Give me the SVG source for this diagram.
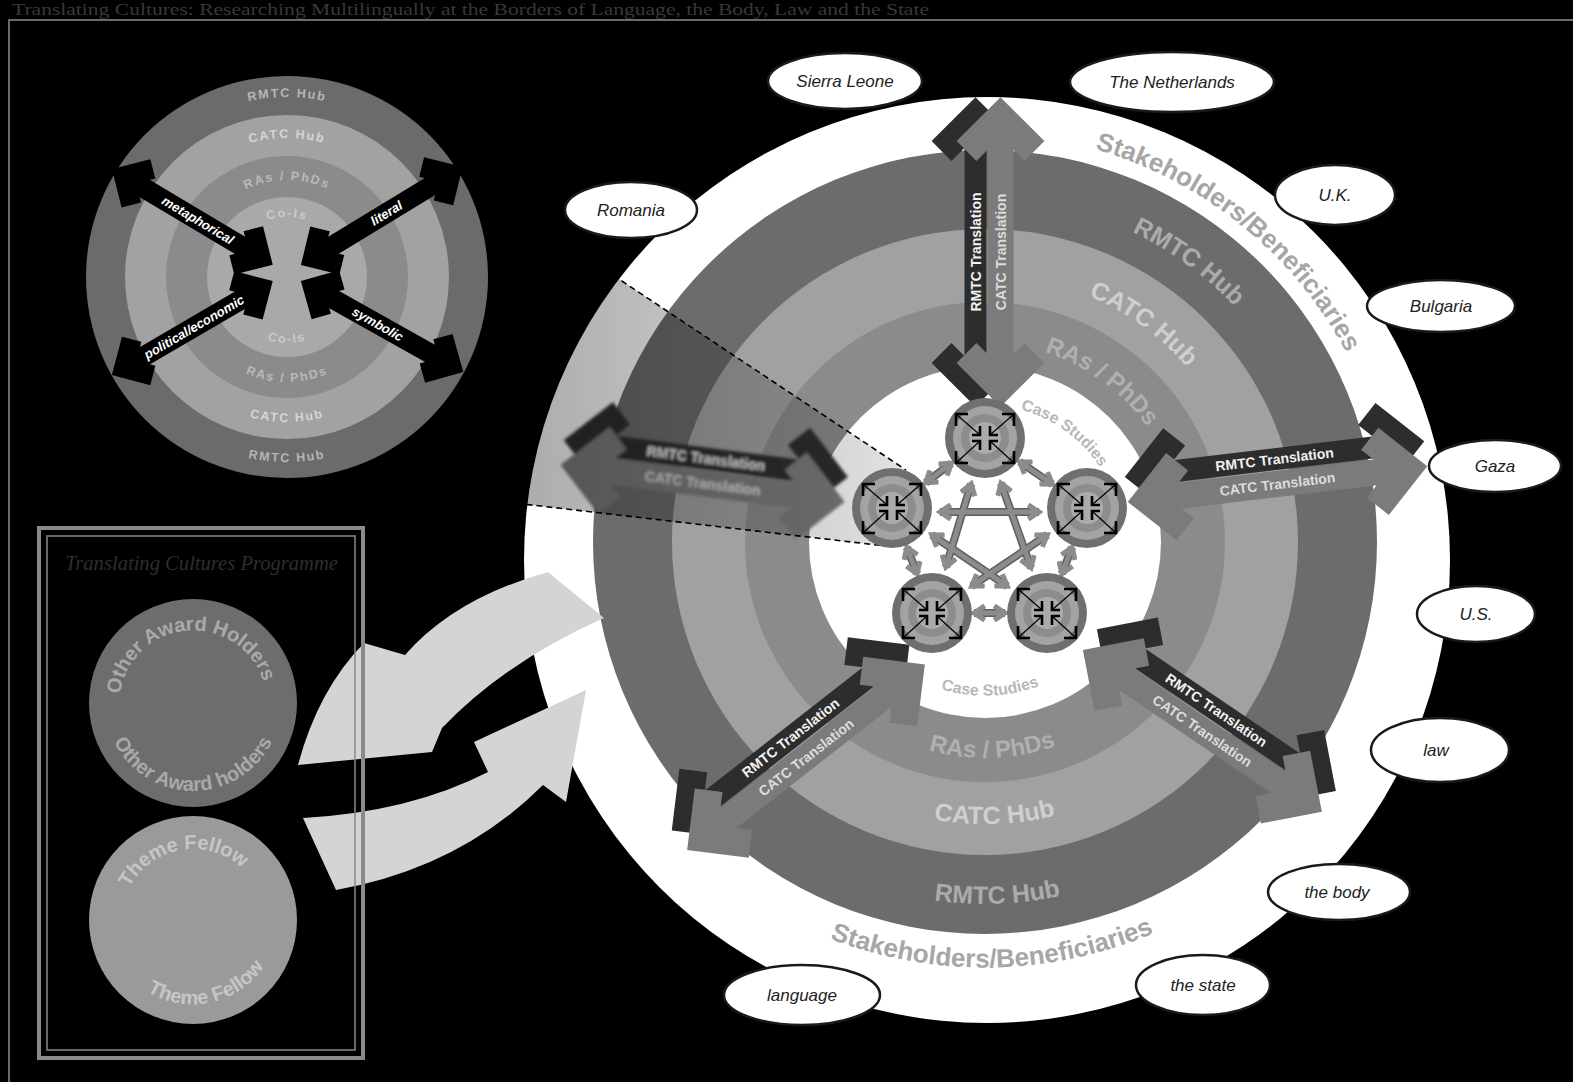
<svg xmlns="http://www.w3.org/2000/svg" width="1573" height="1082" viewBox="0 0 1573 1082">
<defs>
<style>
.tr1{font:bold 14px "Liberation Sans",Arial,sans-serif;fill:#f2f2f2;text-anchor:middle;dominant-baseline:central}
.tr2{font:bold 14px "Liberation Sans",Arial,sans-serif;fill:#dcdcdc;text-anchor:middle;dominant-baseline:central}
.dkf{fill:#2d2d2d}.grf{fill:#7b7b7b}
.dk{fill:none;stroke:#2d2d2d;stroke-width:28;stroke-linejoin:miter}
.gr{fill:none;stroke:#7b7b7b;stroke-width:28;stroke-linejoin:miter}
.rl{font-family:"Liberation Sans",Arial,sans-serif;font-weight:bold;text-anchor:middle}
.el{fill:#fff;stroke:#1a1a1a;stroke-width:2.5}
.et{font:italic 17px "Liberation Sans",Arial,sans-serif;fill:#222;text-anchor:middle}
.pco{fill:none;stroke:#5e5e5e;stroke-width:8}
.pc{fill:none;stroke:#8c8c8c;stroke-width:5;marker-start:url(#ch);marker-end:url(#ch)}
.la line{stroke:#000;stroke-width:20}
.la polyline{fill:none;stroke:#000;stroke-width:20;stroke-linejoin:miter}
.ma line{stroke:#000;stroke-width:1.2}
.ma polyline{fill:none;stroke:#000;stroke-width:2.6;stroke-linejoin:miter}
.lt{font:italic bold 13px "Liberation Sans",Arial,sans-serif;fill:#fff;text-anchor:middle;dominant-baseline:central}
.ll{font:bold 12.5px "Liberation Sans",Arial,sans-serif;letter-spacing:1.8px;text-anchor:middle}
.ca{fill:#d4d4d4}
</style>
<marker id="ch" viewBox="0 0 10 10" refX="7.5" refY="5" markerWidth="3.6" markerHeight="3.6" orient="auto-start-reverse"><path d="M1.5,1 L7.5,5 L1.5,9" fill="none" stroke="#8c8c8c" stroke-width="2.8"/></marker>
<filter id="bl" x="-10%" y="-30%" width="120%" height="160%"><feGaussianBlur stdDeviation="1.8"/></filter>
<linearGradient id="cg" x1="300" y1="0" x2="900" y2="0" gradientUnits="userSpaceOnUse"><stop offset="0" stop-color="#000" stop-opacity="0.45"/><stop offset="1" stop-color="#000" stop-opacity="0.12"/></linearGradient>
<g id="lens">
<circle r="201" fill="#6b6b6b"/>
<circle r="162" fill="#a2a2a2"/>
<circle r="121" fill="#8b8b8b"/>
<circle r="80" fill="#a9a9a9"/>
<g class="la">
<g transform="translate(-175,-108) rotate(30.8)"><line x1="12" y1="0" x2="175" y2="0"/><polyline points="35,-21 14,0 35,21"/><polyline points="152,-21 173,0 152,21"/></g>
<g transform="translate(14,-12) rotate(-31.3)"><line x1="12" y1="0" x2="176" y2="0"/><polyline points="35,-21 14,0 35,21"/><polyline points="154,-21 175,0 154,21"/></g>
<g transform="translate(-175,98) rotate(-30.3)"><line x1="12" y1="0" x2="174" y2="0"/><polyline points="35,-21 14,0 35,21"/><polyline points="151,-21 172,0 151,21"/></g>
<g transform="translate(14,4) rotate(29.3)"><line x1="12" y1="0" x2="174" y2="0"/><polyline points="35,-21 14,0 35,21"/><polyline points="151,-21 172,0 151,21"/></g>
</g>
</g>
<g id="mlens">
<circle r="40" fill="#6f6f6f"/>
<circle r="32" fill="#a3a3a3"/>
<circle r="24" fill="#8d8d8d"/>
<circle r="16" fill="#ababab"/>
<g class="ma">
<line x1="-28" y1="-23" x2="-6" y2="-4"/><line x1="28" y1="-23" x2="6" y2="-4"/>
<line x1="-28" y1="24" x2="-6" y2="4"/><line x1="28" y1="24" x2="6" y2="4"/>
<polyline points="-17,-24 -29,-24 -29,-12"/><polyline points="17,-24 29,-24 29,-12"/>
<polyline points="-17,25 -29,25 -29,13"/><polyline points="17,25 29,25 29,13"/>
<polyline points="-13,-3 -5,-3 -5,-12"/><polyline points="13,-3 5,-3 5,-12"/>
<polyline points="-13,3 -5,3 -5,12"/><polyline points="13,3 5,3 5,12"/>
</g>
</g>
<path id="pSt" d="M663.3,281.5 A414,414 0 0 1 1306.7,802.5"/>
<path id="pRm" d="M707.5,340.3 A343,343 0 0 1 1262.5,743.7"/>
<path id="pCa" d="M769,385 A267,267 0 0 1 1201,699"/>
<path id="pRa" d="M824,425 A199,199 0 0 1 1146,659"/>
<path id="pCs" d="M874.2,461.4 A137,137 0 0 1 1095.8,622.6"/>
<path id="qSt" d="M554.1,549.5 A431,431 0 0 0 1415.9,534.5"/>
<path id="qRm" d="M623.2,554.6 A362,362 0 0 0 1346.8,529.4"/>
<path id="qCa" d="M699.2,552 A286,286 0 0 0 1270.8,532"/>
<path id="qRa" d="M769.1,549.5 A216,216 0 0 0 1200.9,534.5"/>
<path id="qCs" d="M830.1,547.4 A155,155 0 0 0 1139.9,536.6"/>
<path id="lt180" d="M107,277 A180,180 0 0 1 467,277"/>
<path id="lt139" d="M148,277 A139,139 0 0 1 426,277"/>
<path id="lt97" d="M190,277 A97,97 0 0 1 384,277"/>
<path id="lt60" d="M227,277 A60,60 0 0 1 347,277"/>
<path id="lb66" d="M221,277 A66,66 0 0 0 353,277"/>
<path id="lb105" d="M182,277 A105,105 0 0 0 392,277"/>
<path id="lb145" d="M142,277 A145,145 0 0 0 432,277"/>
<path id="lb185" d="M102,277 A185,185 0 0 0 472,277"/>
<path id="oaT" d="M119.3,709.5 A74,74 0 0 1 266.7,696.5"/>
<path id="oaB" d="M105,703 A88,88 0 0 0 281,703"/>
<path id="tfT" d="M122.1,932.5 A72,72 0 0 1 263.9,907.5"/>
<path id="tfB" d="M108.9,937.9 A86,86 0 0 0 277.1,902.1"/>
</defs>
<rect width="1573" height="1082" fill="#000"/>
<text x="12" y="15" font-family="Liberation Serif, serif" font-size="17" fill="#383838" textLength="917" lengthAdjust="spacingAndGlyphs">Translating Cultures: Researching Multilingually at the Borders of Language, the Body, Law and the State</text>
<path d="M9,1082 V20 H1573" fill="none" stroke="#6a6a6a" stroke-width="2"/>

<g id="stakeholders-circle">
<circle cx="987" cy="560" r="463" fill="#fff"/>
<circle cx="985" cy="542" r="392" fill="#6c6c6c"/>
<circle cx="985" cy="542" r="313" fill="#a1a1a1"/>
<circle cx="985" cy="542" r="240" fill="#8b8b8b"/>
<circle cx="985" cy="542" r="176" fill="#fff"/>
<text class="rl" font-size="26" fill="#a6a6a6"><textPath href="#pSt" startOffset="50%">Stakeholders/Beneficiaries</textPath></text>
<text class="rl" font-size="25" fill="#ababab"><textPath href="#pRm" startOffset="50%">RMTC Hub</textPath></text>
<text class="rl" font-size="25" fill="#cfcfcf"><textPath href="#pCa" startOffset="50%">CATC Hub</textPath></text>
<text class="rl" font-size="24" fill="#b0b0b0"><textPath href="#pRa" startOffset="50%">RAs / PhDs</textPath></text>
<text class="rl" font-size="16" fill="#b8b8b8"><textPath href="#pCs" startOffset="50%">Case Studies</textPath></text>
<text class="rl" font-size="26" fill="#a6a6a6"><textPath href="#qSt" startOffset="50%">Stakeholders/Beneficiaries</textPath></text>
<text class="rl" font-size="25" fill="#ababab"><textPath href="#qRm" startOffset="50%">RMTC Hub</textPath></text>
<text class="rl" font-size="25" fill="#cfcfcf"><textPath href="#qCa" startOffset="50%">CATC Hub</textPath></text>
<text class="rl" font-size="24" fill="#b0b0b0"><textPath href="#qRa" startOffset="50%">RAs / PhDs</textPath></text>
<text class="rl" font-size="16" fill="#b8b8b8"><textPath href="#qCs" startOffset="50%">Case Studies</textPath></text>
</g>

<g id="connectors">
<g filter="url(#bl)" transform="translate(562,452) rotate(7.4)">
<rect x="20" y="-23" width="247" height="22" class="dkf"/>
<polyline class="dk" points="54,-46 20,-12 54,22"/><polyline class="dk" points="233,-46 267,-12 233,22"/>
<rect x="20" y="0" width="247" height="26" class="grf"/>
<polyline class="gr" points="54,-21 20,13 54,47"/><polyline class="gr" points="233,-21 267,13 233,47"/>
<text x="143.5" y="-12" class="tr1">RMTC Translation</text><text x="143.5" y="13" class="tr2">CATC Translation</text>
</g>
<g id="zoom-cone">
<polygon points="455,170 906,470 886,546 298,478" fill="url(#cg)"/>
<line x1="455" y1="170" x2="906" y2="470" stroke="#000" stroke-width="1.6" stroke-dasharray="6,4"/>
<line x1="298" y1="478" x2="886" y2="546" stroke="#000" stroke-width="1.6" stroke-dasharray="6,4"/>
</g>
<g transform="translate(987.5,407) rotate(-90)">
<rect x="20" y="-23" width="270" height="22" class="dkf"/>
<polyline class="dk" points="54,-46 20,-12 54,22"/><polyline class="dk" points="256,-46 290,-12 256,22"/>
<rect x="20" y="0" width="270" height="26" class="grf"/>
<polyline class="gr" points="54,-21 20,13 54,47"/><polyline class="gr" points="256,-21 290,13 256,47"/>
<text x="155" y="-12" class="tr1">RMTC Translation</text><text x="155" y="13" class="tr2">CATC Translation</text>
</g>
<g transform="translate(1126,489) rotate(-6.8)">
<rect x="20" y="-23" width="262" height="22" class="dkf"/>
<polyline class="dk" points="54,-46 20,-12 54,22"/><polyline class="dk" points="248,-46 282,-12 248,22"/>
<rect x="20" y="0" width="262" height="26" class="grf"/>
<polyline class="gr" points="54,-21 20,13 54,47"/><polyline class="gr" points="248,-21 282,13 248,47"/>
<text x="151" y="-12" class="tr1">RMTC Translation</text><text x="151" y="13" class="tr2">CATC Translation</text>
</g>
<g transform="translate(1090,639) rotate(34.1)">
<rect x="20" y="-23" width="249" height="22" class="dkf"/>
<polyline class="dk" points="54,-46 20,-12 54,22"/><polyline class="dk" points="235,-46 269,-12 235,22"/>
<rect x="20" y="0" width="249" height="26" class="grf"/>
<polyline class="gr" points="54,-21 20,13 54,47"/><polyline class="gr" points="235,-21 269,13 235,47"/>
<text x="144.5" y="-12" class="tr1">RMTC Translation</text><text x="144.5" y="13" class="tr2">CATC Translation</text>
</g>
<g transform="translate(679,840) rotate(-38)">
<rect x="20" y="-23" width="262" height="22" class="dkf"/>
<polyline class="dk" points="54,-46 20,-12 54,22"/><polyline class="dk" points="248,-46 282,-12 248,22"/>
<rect x="20" y="0" width="262" height="26" class="grf"/>
<polyline class="gr" points="54,-21 20,13 54,47"/><polyline class="gr" points="248,-21 282,13 248,47"/>
<text x="151" y="-12" class="tr1">RMTC Translation</text><text x="151" y="13" class="tr2">CATC Translation</text>
</g>
<g id="pentagon-links">
<line class="pco" x1="1019.6" y1="461.8" x2="1052.4" y2="484.2"/>
<line class="pco" x1="1072.1" y1="547.2" x2="1061.9" y2="573.8"/>
<line class="pco" x1="1005" y1="613" x2="974" y2="613"/>
<line class="pco" x1="917.1" y1="573.8" x2="906.9" y2="547.2"/>
<line class="pco" x1="925.6" y1="482.7" x2="951.4" y2="463.3"/>
<line class="pco" x1="1001" y1="483.2" x2="1031" y2="567.8"/>
<line class="pco" x1="1007.3" y1="586.1" x2="931.7" y2="534.9"/>
<line class="pco" x1="940" y1="512" x2="1039" y2="512"/>
<line class="pco" x1="1047.3" y1="534.9" x2="971.7" y2="586.1"/>
<line class="pco" x1="945.9" y1="567.1" x2="971.1" y2="483.9"/>
<line class="pc" x1="1019.6" y1="461.8" x2="1052.4" y2="484.2"/>
<line class="pc" x1="1072.1" y1="547.2" x2="1061.9" y2="573.8"/>
<line class="pc" x1="1005" y1="613" x2="974" y2="613"/>
<line class="pc" x1="917.1" y1="573.8" x2="906.9" y2="547.2"/>
<line class="pc" x1="925.6" y1="482.7" x2="951.4" y2="463.3"/>
<line class="pc" x1="1001" y1="483.2" x2="1031" y2="567.8"/>
<line class="pc" x1="1007.3" y1="586.1" x2="931.7" y2="534.9"/>
<line class="pc" x1="940" y1="512" x2="1039" y2="512"/>
<line class="pc" x1="1047.3" y1="534.9" x2="971.7" y2="586.1"/>
<line class="pc" x1="945.9" y1="567.1" x2="971.1" y2="483.9"/>
</g>
<path class="ca" d="M548,572 Q455,598 405,655 L364,643 Q318,690 298,765 L432,752 L442,728 Q505,662 604,618 Z"/>
<path class="ca" d="M303,818 Q410,812 488,772 L474,742 L586,690 L566,802 L543,785 Q460,868 336,890 Z"/>
</g>

<g id="node-1"><use href="#mlens" transform="translate(985,438)"/></g>
<g id="node-2"><use href="#mlens" transform="translate(1087,508)"/></g>
<g id="node-3"><use href="#mlens" transform="translate(1047,613)"/></g>
<g id="node-4"><use href="#mlens" transform="translate(932,613)"/></g>
<g id="node-5"><use href="#mlens" transform="translate(892,508)"/></g>

<g id="lens-detail">
<use href="#lens" transform="translate(287,277)"/>
<g transform="translate(287,277)">
<g transform="translate(-175,-108) rotate(30.8)"><text x="100" y="0" class="lt">metaphorical</text></g>
<g transform="translate(14,-12) rotate(-31.3)"><text x="100" y="0" class="lt">literal</text></g>
<g transform="translate(-175,98) rotate(-30.3)"><text x="95" y="0" class="lt">political/economic</text></g>
<g transform="translate(14,4) rotate(29.3)"><text x="88" y="0" class="lt">symbolic</text></g>
</g>
<text class="ll" fill="#b5b5b5"><textPath href="#lt180" startOffset="50%">RMTC Hub</textPath></text>
<text class="ll" fill="#d5d5d5"><textPath href="#lt139" startOffset="50%">CATC Hub</textPath></text>
<text class="ll" fill="#b9b9b9"><textPath href="#lt97" startOffset="50%">RAs / PhDs</textPath></text>
<text class="ll" fill="#cacaca"><textPath href="#lt60" startOffset="50%">Co-Is</textPath></text>
<text class="ll" fill="#cacaca"><textPath href="#lb66" startOffset="50%">Co-Is</textPath></text>
<text class="ll" fill="#b9b9b9"><textPath href="#lb105" startOffset="50%">RAs / PhDs</textPath></text>
<text class="ll" fill="#d5d5d5"><textPath href="#lb145" startOffset="50%">CATC Hub</textPath></text>
<text class="ll" fill="#b5b5b5"><textPath href="#lb185" startOffset="50%">RMTC Hub</textPath></text>
</g>

<g id="sierra-leone"><ellipse class="el" cx="845" cy="81" rx="77" ry="28"/><text class="et" x="845" y="87">Sierra Leone</text></g>
<g id="the-netherlands"><ellipse class="el" cx="1172" cy="82" rx="102" ry="30"/><text class="et" x="1172" y="88">The Netherlands</text></g>
<g id="romania"><ellipse class="el" cx="631" cy="210" rx="66" ry="28"/><text class="et" x="631" y="216">Romania</text></g>
<g id="uk"><ellipse class="el" cx="1335" cy="195" rx="60" ry="30"/><text class="et" x="1335" y="201">U.K.</text></g>
<g id="bulgaria"><ellipse class="el" cx="1441" cy="306" rx="74" ry="26"/><text class="et" x="1441" y="312">Bulgaria</text></g>
<g id="gaza"><ellipse class="el" cx="1495" cy="466" rx="66" ry="26"/><text class="et" x="1495" y="472">Gaza</text></g>
<g id="us"><ellipse class="el" cx="1476" cy="614" rx="59" ry="28"/><text class="et" x="1476" y="620">U.S.</text></g>
<g id="law"><ellipse class="el" cx="1440" cy="750" rx="69" ry="32"/><text class="et" x="1436" y="756">law</text></g>
<g id="the-body"><ellipse class="el" cx="1339" cy="892" rx="71" ry="28"/><text class="et" x="1337" y="898">the body</text></g>
<g id="the-state"><ellipse class="el" cx="1203" cy="985" rx="67" ry="30"/><text class="et" x="1203" y="991">the state</text></g>
<g id="language"><ellipse class="el" cx="802" cy="995" rx="78" ry="30"/><text class="et" x="802" y="1001">language</text></g>

<g id="programme-box">
<rect x="39" y="528" width="324" height="530" fill="none" stroke="#8a8a8a" stroke-width="4"/>
<rect x="47" y="536" width="308" height="514" fill="none" stroke="#8a8a8a" stroke-width="1.5"/>
<text x="65" y="570" font-family="Liberation Serif, serif" font-style="italic" font-size="21" fill="#2e2e2e" textLength="273" lengthAdjust="spacingAndGlyphs">Translating Cultures Programme</text>
</g>
<g id="other-award-holders">
<circle cx="193" cy="703" r="104" fill="#6d6d6d"/>
<text class="rl" font-size="20" fill="#a9a9a9"><textPath href="#oaT" startOffset="50%">Other Award Holders</textPath></text>
<text class="rl" font-size="20" fill="#a9a9a9"><textPath href="#oaB" startOffset="50%">Other Award holders</textPath></text>
</g>
<g id="theme-fellow">
<circle cx="193" cy="920" r="104" fill="#9a9a9a"/>
<text class="rl" font-size="20" fill="#c6c6c6"><textPath href="#tfT" startOffset="50%">Theme Fellow</textPath></text>
<text class="rl" font-size="20" fill="#c6c6c6"><textPath href="#tfB" startOffset="50%">Theme Fellow</textPath></text>
</g>
</svg>
